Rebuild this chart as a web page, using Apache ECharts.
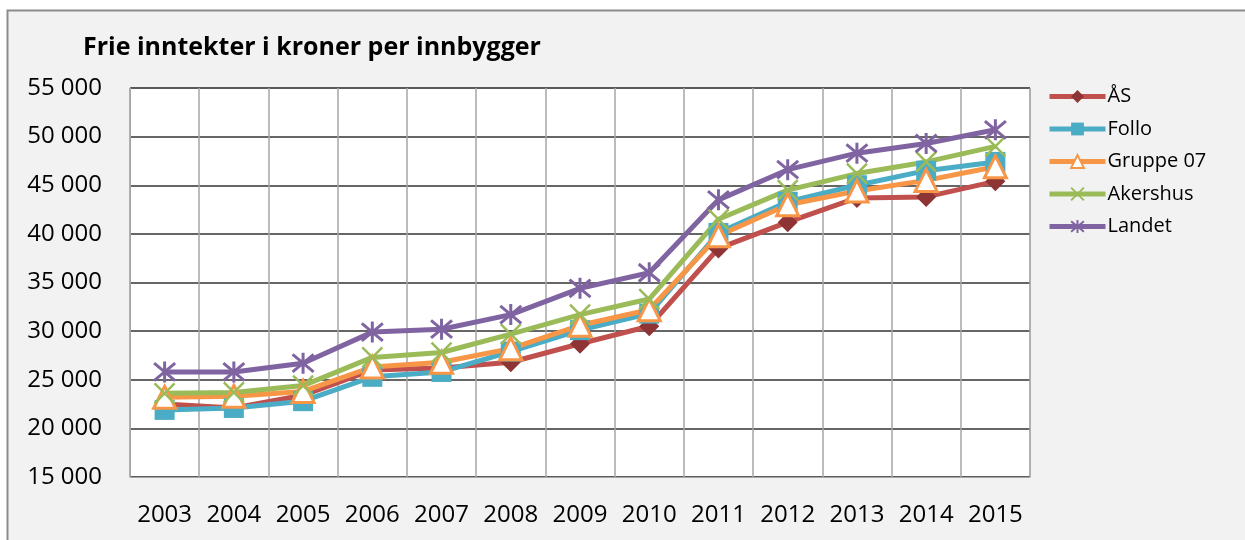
<!DOCTYPE html>
<html>
<head>
<meta charset="utf-8">
<script src="https://cdn.jsdelivr.net/npm/echarts@6/dist/echarts.min.js"></script>
<style>
html,body{margin:0;padding:0;background:#fff;}
#c{width:1245px;height:540px;}
</style>
</head>
<body>
<div id="c"></div>
<script>
const years = ['2003','2004','2005','2006','2007','2008','2009','2010','2011','2012','2013','2014','2015'];
const seriesNames = ['ÅS','Follo','Gruppe 07','Akershus','Landet'];
const aas      = [22500, 22100, 23400, 26000, 26200, 26800, 28700, 30500, 38500, 41200, 43700, 43800, 45400];
const follo    = [21900, 22100, 22800, 25300, 25800, 27900, 30100, 31800, 40100, 43300, 45000, 46500, 47400];
const gruppe07 = [23200, 23300, 23800, 26300, 26800, 28200, 30600, 32200, 39800, 43000, 44400, 45500, 46900];
const akershus = [23600, 23700, 24400, 27300, 27800, 29700, 31700, 33300, 41500, 44500, 46200, 47400, 49000];
const landet   = [25800, 25800, 26700, 29900, 30200, 31700, 34400, 36000, 43500, 46600, 48300, 49300, 50700];
const yTicks = [15000, 20000, 25000, 30000, 35000, 40000, 45000, 50000, 55000];

const FONT = 'Open Sans';
const chart = echarts.init(document.getElementById('c'), null, {renderer: 'canvas'});
const xSym = 'path://M0,0L10,10M10,0L0,10';
const starSym = 'path://M0,0L10,10M10,0L0,10M5,-1L5,11';

function mk(name, data, color, symbol, size, itemStyle) {
  return {
    name: name, type: 'line', data: data,
    symbol: symbol, symbolSize: size,
    lineStyle: {color: color, width: 5},
    itemStyle: itemStyle,
    emphasis: {disabled: true},
    animation: false
  };
}

chart.setOption({
  backgroundColor: '#ffffff',
  animation: false,
  graphic: [{
    type: 'rect', z: -10, silent: true,
    shape: {x: 7.5, y: 10.5, width: 1260, height: 560},
    style: {fill: '#f2f2f2', stroke: '#8c8c8c', lineWidth: 2}
  }],
  title: {
    text: 'Frie inntekter i kroner per innbygger',
    left: 78, top: 30,
    textStyle: {fontFamily: FONT, fontSize: 25, fontWeight: 'bold', color: '#000'}
  },
  legend: {
    orient: 'vertical', left: 1042, top: 80,
    itemWidth: 56, itemHeight: 16, itemGap: 9.5,
    data: seriesNames,
    lineStyle: {width: 5},
    textStyle: {fontFamily: FONT, fontSize: 20, color: '#000', lineHeight: 23, padding: [0,0,0,-3]}
  },
  grid: {
    left: 130, top: 88, width: 900, height: 389,
    show: true, backgroundColor: '#ffffff', borderColor: '#a6a6a6', borderWidth: 1,
    containLabel: false
  },
  xAxis: {
    type: 'category', data: years, boundaryGap: true,
    axisLine: {show: true, lineStyle: {color: '#a6a6a6', width: 1}},
    axisTick: {show: false},
    splitLine: {show: true, interval: 0, lineStyle: {color: '#a6a6a6', width: 1.5}},
    axisLabel: {fontFamily: FONT, fontSize: 24, color: '#000', margin: 26, interval: 0}
  },
  yAxis: {
    type: 'value', min: 15000, max: 55000, interval: 5000,
    axisLine: {show: true, lineStyle: {color: '#a6a6a6'}},
    axisTick: {show: false},
    splitLine: {show: true, lineStyle: {color: '#333333', width: 1.5}},
    axisLabel: {
      fontFamily: FONT, fontSize: 24, color: '#000', margin: 28,
      formatter: function (v) { return yTicks.indexOf(v) >= 0 ? String(v).replace(/\B(?=(\d{3})+(?!\d))/g, ' ') : ''; }
    }
  },
  series: [
    mk('ÅS', aas, '#c0504d', 'diamond', 20, {color: '#8e3434'}),
    mk('Follo', follo, '#4bacc6', 'rect', 20, {color: '#4bacc6'}),
    mk('Gruppe 07', gruppe07, '#f79646', 'triangle', 22, {color: '#ffffff', borderColor: '#f79646', borderWidth: 3}),
    mk('Akershus', akershus, '#9bbb59', xSym, 20, {color: '#9bbb59', borderColor: '#9bbb59', borderWidth: 2.5}),
    mk('Landet', landet, '#8064a2', starSym, 21, {color: '#8064a2', borderColor: '#8064a2', borderWidth: 3})
  ]
});
</script>
</body>
</html>
